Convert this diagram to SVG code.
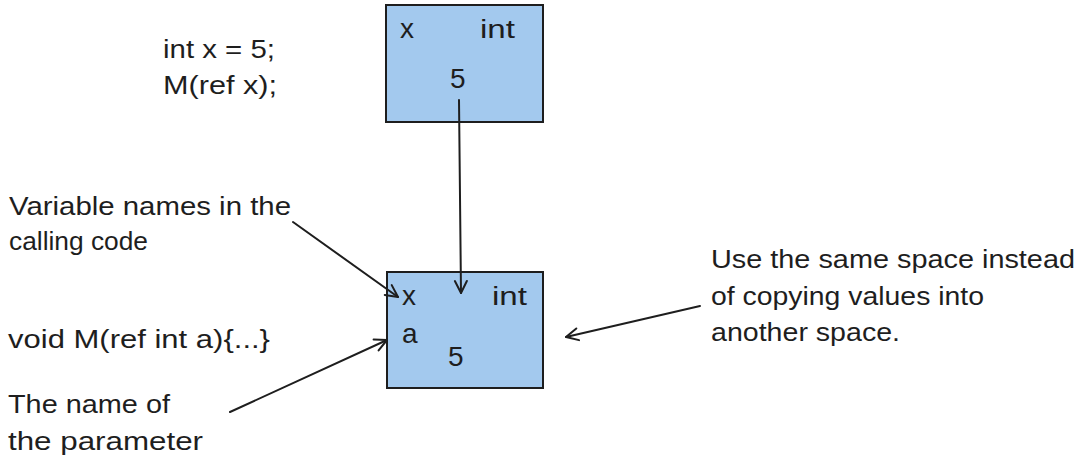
<svg xmlns="http://www.w3.org/2000/svg" width="1080" height="459" viewBox="0 0 1080 459">
<defs>
<style>
.t{font-family:"Liberation Sans","Noto Sans",sans-serif;font-size:26px;fill:#1e1e1e}
.big{font-size:28px}
.box{fill:#a3c9ee;stroke:#1e1e1e;stroke-width:2}
.c{fill:none;stroke:#1e1e1e;stroke-width:2;stroke-linecap:round}
</style>
<marker id="ah" markerUnits="userSpaceOnUse" viewBox="-14 -8 16 16" refX="0" refY="0" markerWidth="16" markerHeight="16" orient="auto">
<path d="M-12,-6 L0,0 L-12,6" fill="none" stroke="#1e1e1e" stroke-width="2" stroke-linecap="round" stroke-linejoin="round"/>
</marker>
</defs>
<rect width="1080" height="459" fill="#ffffff"/>
<g id="code-caller">
<text class="t" x="163" y="58" textLength="112" lengthAdjust="spacingAndGlyphs">int x = 5;</text>
<text class="t" x="163" y="94" textLength="114" lengthAdjust="spacingAndGlyphs">M(ref x);</text>
</g>
<g id="box-x">
<rect class="box" x="386" y="5" width="157" height="117"/>
<text class="t big" x="400" y="38">x</text>
<text class="t" x="480" y="38" textLength="35" lengthAdjust="spacingAndGlyphs">int</text>
<text class="t big" x="450" y="88">5</text>
</g>
<g id="box-a">
<rect class="box" x="387" y="272" width="156" height="116"/>
<text class="t big" x="402" y="305">x</text>
<text class="t" x="492" y="305" textLength="35" lengthAdjust="spacingAndGlyphs">int</text>
<text class="t big" x="402" y="343">a</text>
<text class="t big" x="448" y="366">5</text>
</g>
<g id="note-names">
<text class="t" x="9" y="215" textLength="282" lengthAdjust="spacingAndGlyphs">Variable names in the</text>
<text class="t" x="9" y="250" textLength="139" lengthAdjust="spacingAndGlyphs">calling code</text>
</g>
<g id="code-method">
<text class="t" x="8" y="348" textLength="262" lengthAdjust="spacingAndGlyphs">void M(ref int a){...}</text>
</g>
<g id="note-param">
<text class="t" x="8" y="413" textLength="162" lengthAdjust="spacingAndGlyphs">The name of</text>
<text class="t" x="8" y="450" textLength="195" lengthAdjust="spacingAndGlyphs">the parameter</text>
</g>
<g id="note-space">
<text class="t" x="711" y="268" textLength="364" lengthAdjust="spacingAndGlyphs">Use the same space instead</text>
<text class="t" x="711" y="305" textLength="273" lengthAdjust="spacingAndGlyphs">of copying values into</text>
<text class="t" x="711" y="341" textLength="189" lengthAdjust="spacingAndGlyphs">another space.</text>
</g>
<g id="connectors">
<line class="c" x1="459" y1="100" x2="461" y2="293" marker-end="url(#ah)"/>
<line class="c" x1="293" y1="222" x2="398" y2="297" marker-end="url(#ah)"/>
<line class="c" x1="230" y1="412" x2="387" y2="340" marker-end="url(#ah)"/>
<line class="c" x1="700" y1="306" x2="566" y2="337" marker-end="url(#ah)"/>
</g>
</svg>
